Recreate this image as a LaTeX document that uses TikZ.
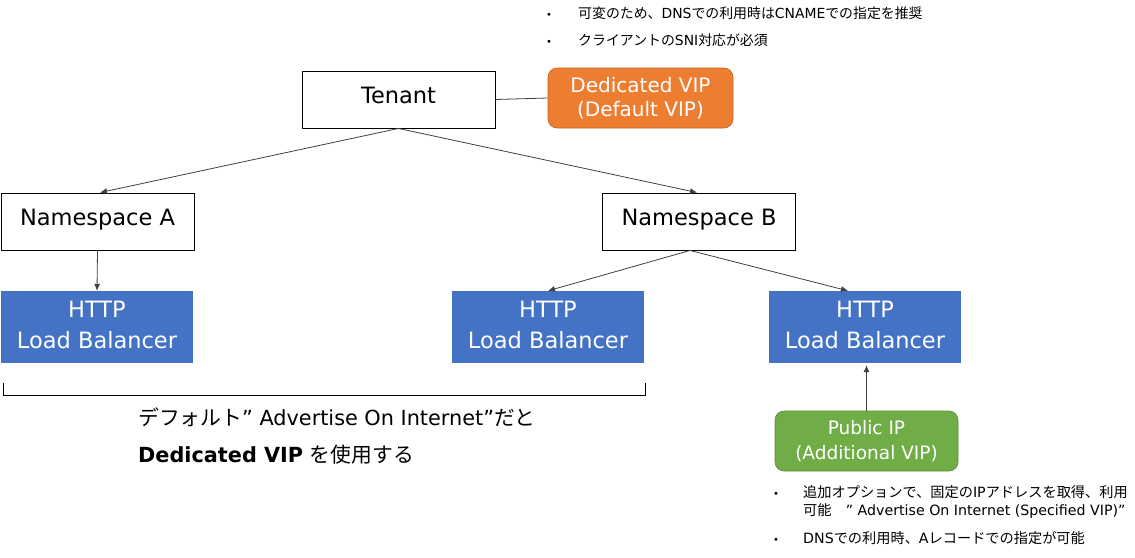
\documentclass[tikz,border=0pt]{standalone}
\usepackage{fontspec}
\setmainfont{DejaVu Sans}
\newfontfamily\jp{Noto Sans CJK JP}
\usetikzlibrary{arrows.meta}
\definecolor{vorange}{HTML}{ED7D31}
\definecolor{vblue}{HTML}{4472C4}
\definecolor{vgreen}{HTML}{70AD47}
\definecolor{lgray}{HTML}{404040}
\tikzset{
  wbox/.style={draw=black, line width=0.9pt, fill=white, minimum width=193pt, minimum height=57pt, inner sep=0pt, text depth=9pt, font=\fontsize{22.5}{26}\selectfont},
  lbbox/.style={fill=vblue, text=white, minimum width=192pt, minimum height=72pt, inner sep=0pt, align=center, font=\fontsize{22.5}{31}\selectfont},
  vipbox/.style={rounded corners=9pt, text=white, draw=#1!80!black, line width=0.6pt, fill=#1, inner sep=0pt, align=center},
  conn/.style={draw=lgray, line width=0.8pt, -{Latex[length=7pt,width=6pt]}},
  plain/.style={draw=lgray, line width=0.8pt},
  note/.style={anchor=base west, inner sep=0pt, font=\fontsize{13.9}{16}\selectfont},
  bnote/.style={anchor=base west, inner sep=0pt, font=\fontsize{14.2}{16}\selectfont},
  bul/.style={anchor=base, inner sep=0pt, font=\fontsize{10}{10}\selectfont},
  bigtxt/.style={anchor=base west, inner sep=0pt, font=\fontsize{20.8}{24}\selectfont},
}
\begin{document}
\begin{tikzpicture}[x=1pt,y=-1pt]
\useasboundingbox (0,0) rectangle (1135,557);
% nodes
\node[wbox] (tenant) at (398.5,99.5) {Tenant};
\node[vipbox=vorange, minimum width=185pt, minimum height=60pt, font=\fontsize{20}{24.5}\selectfont] (dvip) at (640.5,98) {Dedicated VIP\\(Default VIP)};
\node[wbox] (nsa) at (97.5,221.5) {Namespace A};
\node[wbox] (nsb) at (699,221.5) {Namespace B};
\node[lbbox] (lb1) at (97,327) {HTTP\\Load Balancer\\[-26pt]\mbox{}};
\node[lbbox] (lb2) at (548,327) {HTTP\\Load Balancer\\[-26pt]\mbox{}};
\node[lbbox] (lb3) at (865,327) {HTTP\\Load Balancer\\[-26pt]\mbox{}};
\node[vipbox=vgreen, minimum width=183pt, minimum height=60pt, font=\fontsize{18.5}{25}\selectfont] (pip) at (866.5,441) {Public IP\\(Additional VIP)};
% connectors
\draw[plain] (tenant.east) -- (dvip.west);
\draw[conn] (tenant.south) -- ([xshift=2.5pt]nsa.north);
\draw[conn] (tenant.south) -- ([xshift=-2pt]nsb.north);
\draw[conn] (nsa.south) -- (lb1.north);
\draw[conn] ([xshift=-9pt]nsb.south) -- (lb2.north);
\draw[conn] ([xshift=-9pt]nsb.south) -- ([xshift=-17pt]lb3.north);
\draw[conn, shorten >=2pt] (pip.north) -- (pip.north |- lb3.south);
% brace
\coordinate (bl) at (3,383);
\coordinate (br) at (645,383);
\draw[draw=black, line width=0.9pt] (bl) -- ++(0,12) -- ++(642,0) -- (br);
\node[bigtxt] (t1) at (138,425) {{\jp デフォルト}” Advertise On Internet”{\jp だと}};
\node[bigtxt] (t2) at (138,462) {\textbf{Dedicated VIP} {\jp を使用する}};
% top notes
\node[bul] (b1) at (549,18) {•};
\node[note] (n1) at (578,18) {{\jp 可変のため、}DNS{\jp での利用時は}CNAME{\jp での指定を推奨}};
\node[bul] (b2) at (549,45) {•};
\node[note] (n2) at (578,45) {{\jp クライアントの}SNI{\jp 対応が必須}};
% bottom notes
\node[bul] (b3) at (776,497) {•};
\node[bnote] (n3) at (803,497) {{\jp 追加オプションで、固定の}IP{\jp アドレスを取得、利用}};
\node[bnote] (n4) at (803,515) {{\jp 可能　}” Advertise On Internet (Specified VIP)”};
\node[bul] (b4) at (776,543) {•};
\node[bnote] (n5) at (803,543) {DNS{\jp での利用時、}A{\jp レコードでの指定が可能}};
\end{tikzpicture}
\end{document}
